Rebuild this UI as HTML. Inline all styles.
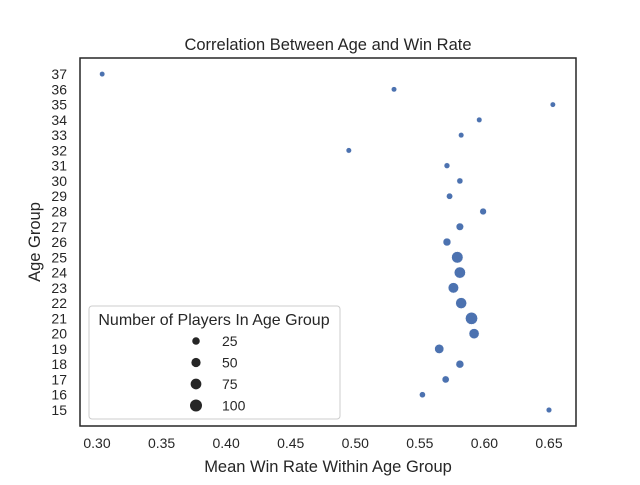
<!DOCTYPE html>
<html><head><meta charset="utf-8"><style>
html,body{margin:0;padding:0;background:#fff;}
svg text{font-family:"Liberation Sans","DejaVu Sans",sans-serif;fill:#262626;}
</style></head><body>
<svg id="chart" width="640" height="480" xmlns="http://www.w3.org/2000/svg">
<rect width="640" height="480" fill="#fff"/>
<text x="328" y="50" font-size="16.5" text-anchor="middle">Correlation Between Age and Win Rate</text>
<text x="328" y="472" font-size="16.5" text-anchor="middle">Mean Win Rate Within Age Group</text>
<text x="0" y="0" font-size="16.5" text-anchor="middle" transform="translate(40,242) rotate(-90)">Age Group</text>
<g id="xticks"></g>
<g id="yticks"></g>
<g id="points"></g>
<rect x="80" y="58" width="496" height="368" fill="none" stroke="#262626" stroke-width="1.5"/>
<g>
<rect x="89" y="306" width="251" height="113" rx="3" fill="#fff" fill-opacity="0.8" stroke="#ccc"/>
<text x="214" y="325" font-size="16" text-anchor="middle">Number of Players In Age Group</text>
<g id="legend-items"></g>
</g>
</svg>
<script>
const ages = [37,36,35,34,33,32,31,30,29,28,27,26,25,24,23,22,21,20,19,18,17,16,15];
const winRates = [0.304,0.530,0.653,0.596,0.582,0.495,0.571,0.581,0.573,0.599,0.581,0.571,0.579,0.581,0.576,0.582,0.590,0.592,0.565,0.581,0.570,0.552,0.650];
const counts = [1,1,1,2,2,2,5,8,10,15,25,30,90,85,70,80,105,65,50,30,20,8,3];
const xTicks = [0.30,0.35,0.40,0.45,0.50,0.55,0.60,0.65];
const legendSizes = [25,50,75,100];
const NS = "http://www.w3.org/2000/svg";
function xS(v){return 97+(v-0.30)*1291.4;}
function yS(a){return 410-(a-15)*15.27;}
function rS(c){return Math.sqrt(7+0.29*c);}
const xg=document.getElementById('xticks');
xTicks.forEach(t=>{
  const tx=document.createElementNS(NS,'text');
  
  
  tx.setAttribute('x',xS(t));tx.setAttribute('y',448);tx.setAttribute('font-size','14');tx.setAttribute('text-anchor','middle');
  tx.textContent=t.toFixed(2);xg.appendChild(tx);
});
const yg=document.getElementById('yticks');
for(let a=15;a<=37;a++){
  const tx=document.createElementNS(NS,'text');
  
  
  tx.setAttribute('x',67);tx.setAttribute('y',yS(a)+5);tx.setAttribute('font-size','14');tx.setAttribute('text-anchor','end');
  tx.textContent=a;yg.appendChild(tx);
}
const pg=document.getElementById('points');
ages.forEach((a,i)=>{
  const c=document.createElementNS(NS,'circle');
  
  
  c.setAttribute('cx',xS(winRates[i]));c.setAttribute('cy',yS(a));c.setAttribute('r',rS(counts[i]));
  c.setAttribute('fill','#4c72b0');c.setAttribute('stroke','#fff');c.setAttribute('stroke-width','0.5');
  pg.appendChild(c);
});
const lg=document.getElementById('legend-items');
legendSizes.forEach((s,i)=>{
  const y=341+i*21.5;
  const c=document.createElementNS(NS,'circle');
  
  
  c.setAttribute('cx',196);c.setAttribute('cy',y);c.setAttribute('r',rS(s));c.setAttribute('fill','#262626');
  lg.appendChild(c);
  const t=document.createElementNS(NS,'text');
  
  
  t.setAttribute('x',222);t.setAttribute('y',y+5);t.setAttribute('font-size','14');
  t.textContent=s;lg.appendChild(t);
});
</script>
</body></html>
